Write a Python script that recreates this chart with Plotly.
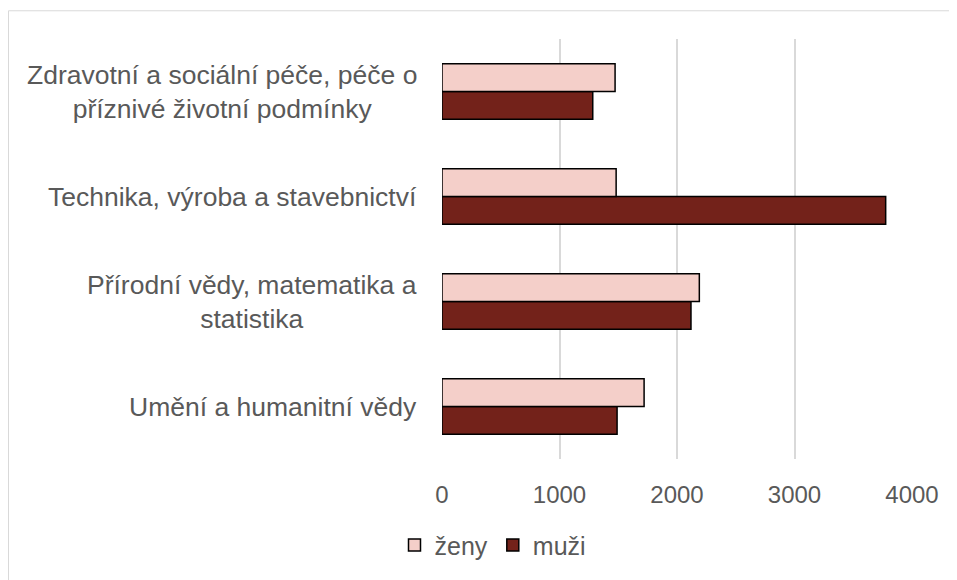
import plotly.graph_objects as go

categories = [
    "Umění a humanitní vědy",
    "Přírodní vědy, matematika a<br>statistika",
    "Technika, výroba a stavebnictví",
    "Zdravotní a sociální péče, péče o<br>příznivé životní podmínky",
]
zeny = [1720, 2190, 1482, 1473]
muzi = [1490, 2119, 3776, 1283]
x_ticks = [0, 1000, 2000, 3000, 4000]

# page offset (body margin)
OX, OY = 8, 8
W, H = 957 - OX, 580 - OY
# plot area in page coordinates
PX0, PX1, PY0, PY1 = 442, 912, 39, 463
L, R, T, B = PX0 - OX, W - (PX1 - OX), PY0 - OY, H - (PY1 - OY)
pw = PX1 - PX0
ph = PY1 - PY0
txt = "#595959"
FONT = "Liberation Sans, Arial, sans-serif"


def px_x(x):
    return (x - PX0) / pw


def px_y(y):
    return (PY1 - y) / ph


fig = go.Figure()
fig.add_trace(go.Bar(y=categories, x=muzi, orientation="h", name="muži",
                     marker=dict(color="#73221A", line=dict(color="#000000", width=1.5))))
fig.add_trace(go.Bar(y=categories, x=zeny, orientation="h", name="ženy",
                     marker=dict(color="#F4CFC9", line=dict(color="#000000", width=1.5))))

annotations = []
for c in categories:
    annotations.append(dict(x=px_x(419), xref="paper", y=c, yref="y",
                            text=c, showarrow=False, xanchor="right", yanchor="middle",
                            align="center", font=dict(size=26.5, color=txt, family=FONT)))

fig.update_layout(
    width=W, height=H,
    margin=dict(l=L, r=R, t=T, b=B, pad=0),
    paper_bgcolor="white", plot_bgcolor="white",
    barmode="group", bargap=0.472, bargroupgap=0,
    font=dict(family=FONT, size=24, color=txt),
    showlegend=True,
    legend=dict(orientation="h", traceorder="reversed",
                x=px_x(493), xanchor="center",
                y=px_y(550), yanchor="middle",
                font=dict(size=25, color=txt, family=FONT),
                itemwidth=30, bgcolor="rgba(0,0,0,0)"),
    xaxis=dict(range=[0, 4000], tickvals=x_ticks, ticktext=[str(v) for v in x_ticks],
               showgrid=True, gridcolor="#D9D9D9", gridwidth=1.5,
               zeroline=False, showline=False,
               ticks="outside", ticklen=14, tickcolor="rgba(0,0,0,0)",
               tickfont=dict(size=24, color=txt, family=FONT)),
    yaxis=dict(type="category", categoryorder="array", categoryarray=categories,
               showticklabels=False, showgrid=False, zeroline=False, showline=False,
               range=[-0.5, 3.5]),
    annotations=annotations,
    shapes=[dict(type="rect", xref="paper", yref="paper",
                 x0=px_x(8.5), x1=px_x(1000),
                 y0=px_y(640), y1=px_y(10.5),
                 line=dict(color="#D9D9D9", width=1), fillcolor="rgba(0,0,0,0)", layer="below")],
)

fig.write_html("out.html")
